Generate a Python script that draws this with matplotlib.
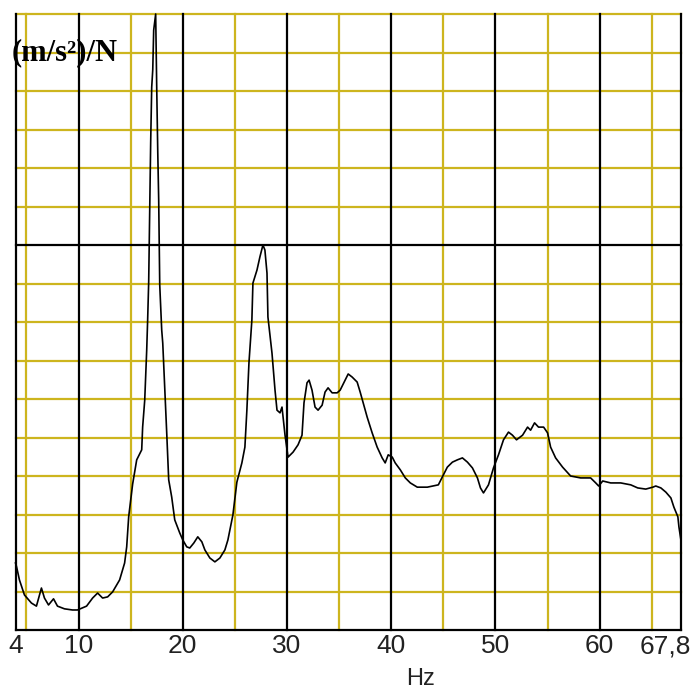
import matplotlib
matplotlib.use('Agg')
import matplotlib.pyplot as plt
import matplotlib.transforms as mtransforms

# frequency (Hz) and response ((m/s^2)/N, in grid units)
freq_hz = [3.95, 4.04, 4.33, 4.81, 5.48, 5.96, 6.44, 6.73, 7.12, 7.60, 7.98, 8.65, 9.42, 9.90,
           10.77, 11.35, 11.83, 12.31, 12.79, 13.27, 13.94, 14.42, 14.62, 14.81, 15.19, 15.58,
           16.06, 16.15, 16.35, 16.54, 16.63, 16.73, 16.92, 17.02, 17.12, 17.21, 17.40, 17.50,
           17.60, 17.69, 17.79, 17.98, 18.08, 18.27, 18.46, 18.65, 18.94, 19.23, 19.71, 20.00,
           20.38, 20.67, 21.06, 21.44, 21.83, 22.12, 22.60, 23.08, 23.56, 24.04, 24.33, 24.81,
           25.19, 25.67, 25.96, 26.15, 26.35, 26.63, 26.73, 27.12, 27.40, 27.69, 27.88, 28.08,
           28.17, 28.56, 28.85, 29.04, 29.33, 29.52, 29.81, 30.10, 30.58, 31.06, 31.44, 31.63,
           31.92, 32.12, 32.40, 32.69, 32.98, 33.37, 33.65, 33.94, 34.33, 34.81, 35.10, 35.48,
           35.87, 36.25, 36.73, 37.02, 37.31, 37.69, 38.17, 38.65, 39.13, 39.42, 39.71, 40.10,
           40.38, 40.87, 41.35, 41.83, 42.50, 43.46, 44.52, 45.00, 45.38, 45.87, 46.35, 46.83,
           47.31, 47.79, 48.27, 48.56, 48.85, 49.33, 49.81, 50.29, 50.77, 51.25, 51.63, 52.02,
           52.60, 53.08, 53.37, 53.75, 54.13, 54.62, 55.00, 55.29, 55.77, 56.44, 57.21, 58.17,
           59.13, 59.62, 59.90, 60.29, 61.06, 62.02, 62.98, 63.65, 64.42, 65.10, 65.38, 65.87,
           66.35, 66.83, 67.12, 67.50, 67.60, 67.79]
response = [1.74, 1.66, 1.30, 0.91, 0.70, 0.62, 1.09, 0.83, 0.65, 0.81, 0.62, 0.55, 0.52, 0.52,
            0.62, 0.83, 0.96, 0.83, 0.86, 0.99, 1.30, 1.74, 2.16, 2.94, 3.79, 4.42,
            4.68, 5.27, 5.97, 7.27, 8.05, 9.04, 12.65, 14.10, 14.55, 15.58, 16.00, 14.10,
            12.42, 11.17, 8.96, 7.79, 7.45, 6.31, 5.12, 3.90, 3.45, 2.86, 2.52, 2.34,
            2.16, 2.13, 2.26, 2.42, 2.29, 2.08, 1.87, 1.77, 1.87, 2.08, 2.34, 2.99,
            3.84, 4.34, 4.75, 5.71, 6.94, 8.05, 9.01, 9.35, 9.69, 10.00, 9.87, 9.27,
            8.13, 7.19, 6.23, 5.71, 5.64, 5.79, 5.06, 4.49, 4.62, 4.81, 5.06, 5.90,
            6.42, 6.49, 6.23, 5.79, 5.71, 5.84, 6.18, 6.29, 6.16, 6.16, 6.23, 6.44,
            6.65, 6.57, 6.44, 6.18, 5.90, 5.53, 5.12, 4.75, 4.47, 4.34, 4.55, 4.49,
            4.34, 4.16, 3.95, 3.82, 3.71, 3.71, 3.77, 4.03, 4.23, 4.36, 4.42, 4.47,
            4.36, 4.21, 3.95, 3.69, 3.56, 3.77, 4.21, 4.55, 4.94, 5.14, 5.06, 4.94,
            5.06, 5.27, 5.19, 5.38, 5.27, 5.27, 5.12, 4.75, 4.47, 4.23, 4.00, 3.95,
            3.95, 3.82, 3.74, 3.87, 3.82, 3.82, 3.77, 3.69, 3.66, 3.71, 3.74, 3.69,
            3.58, 3.43, 3.19, 2.94, 2.68, 2.34]

x_ticks = [4, 10, 20, 30, 40, 50, 60, 67.8]
x_tick_labels = ['4', '10', '20', '30', '40', '50', '60', '67,8']
black_x = [4, 10, 20, 30, 40, 50, 60, 67.8]
yellow_x = [5, 15, 25, 35, 45, 55, 65]
yellow_y = [1, 2, 3, 4, 5, 6, 7, 8, 9, 11, 12, 13, 14, 15, 16]
black_y = [0, 10]

W, H = 693, 694
fig = plt.figure(figsize=(W / 100, H / 100), dpi=100)
ax = fig.add_axes([16 / W, (H - 630) / H, (681 - 16) / W, (630 - 14) / H])
ax.set_xlim(4, 67.8)
ax.set_ylim(0, 16)
for s in ax.spines.values():
    s.set_visible(False)

yellow = '#CDB51E'
for y in yellow_y:
    ax.axhline(y, color=yellow, lw=1.6, zorder=1, clip_on=False)
for x in yellow_x:
    ax.axvline(x, color=yellow, lw=1.6, zorder=1, clip_on=False)
for y in black_y:
    ax.axhline(y, color='black', lw=1.6, zorder=2, clip_on=False)
for x in black_x:
    ax.axvline(x, color='black', lw=1.6, zorder=2, clip_on=False)

ax.plot(freq_hz, response, color='black', lw=1.2, zorder=3, clip_on=False)

ax.set_yticks([])
ax.set_xticks(x_ticks)
ax.set_xticklabels(x_tick_labels, fontfamily='Liberation Sans', fontsize=19, color='#222222')
ax.tick_params(axis='x', length=0, pad=3)
last = ax.get_xticklabels()[-1]
last.set_ha('right')
last.set_transform(last.get_transform() + mtransforms.ScaledTranslation(10 / 100, 0, fig.dpi_scale_trans))

ax.text(12 / W, 1 - 38 / H, '(m/s²)/N', transform=fig.transFigure, fontfamily='Liberation Serif',
        fontsize=22, fontweight='bold', ha='left', va='top', color='black', zorder=5)
fig.text(420 / W, 1 - 668 / H, 'Hz', fontfamily='Liberation Sans', fontsize=17,
         ha='center', va='top', color='#222222')

fig.savefig('out.png', dpi=100, facecolor='white')
